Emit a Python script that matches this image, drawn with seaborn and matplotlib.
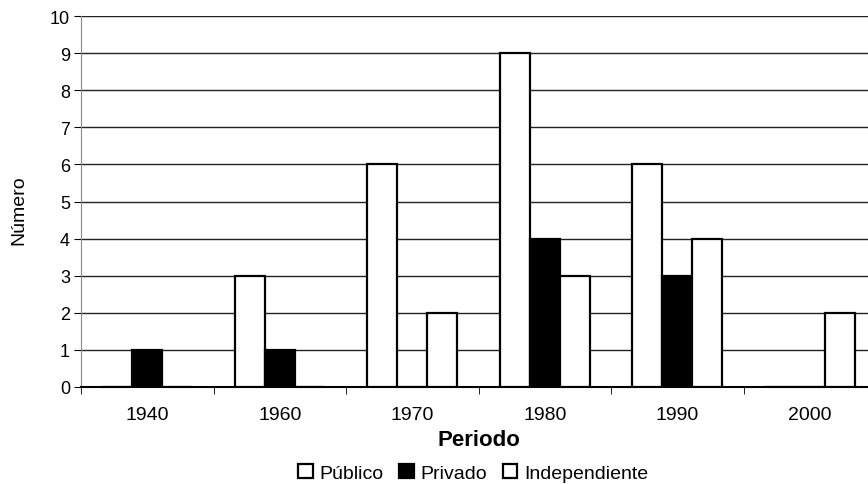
import numpy as np
import pandas as pd
import seaborn as sns
import matplotlib.pyplot as plt
from matplotlib.ticker import FixedLocator

periodos = ["1940", "1960", "1970", "1980", "1990", "2000"]
publico = [0, 3, 6, 9, 6, 0]
privado = [1, 1, 0, 4, 3, 0]
independiente = [0, 0, 2, 3, 4, 2]
series = ["Público", "Privado", "Independiente"]

df = pd.DataFrame({
    "Periodo": periodos * 3,
    "Número": publico + privado + independiente,
    "Tipo": [s for s in series for _ in periodos],
})

sns.set_style("white")
plt.rcParams['font.family'] = ['Liberation Sans', 'DejaVu Sans']
# scanned original has pure black text
plt.rcParams['text.color'] = 'black'
plt.rcParams['axes.labelcolor'] = 'black'
plt.rcParams['xtick.color'] = 'black'
plt.rcParams['ytick.color'] = 'black'

fig = plt.figure(figsize=(8.68, 4.85), dpi=100)
# axes runs past the right edge like the scanned original
ax = fig.add_axes([81/868, 1 - 388/485, 795/868, 371/485])

sns.barplot(data=df, x="Periodo", y="Número", hue="Tipo", order=periodos,
            hue_order=series, palette=["white", "black", "white"],
            edgecolor="black", linewidth=1.6, width=0.68, ax=ax,
            zorder=3)

ax.set_ylim(0, 10)
ax.set_xlim(-0.5, 5.5)
ax.set_yticks(range(0, 11))
ax.yaxis.grid(True, color="#222222", linewidth=1.0, zorder=0)
ax.set_axisbelow(True)

for s in ["top", "right"]:
    ax.spines[s].set_visible(False)
ax.spines["left"].set_color("#888888")
ax.spines["bottom"].set_color("black")
ax.spines["bottom"].set_linewidth(1.5)

ax.tick_params(axis="y", which="major", length=5, direction="out",
               left=True, labelsize=13, pad=3)
ax.tick_params(axis="x", which="major", length=0, labelsize=14, pad=14)
ax.xaxis.set_minor_locator(FixedLocator(np.arange(-0.5, 6, 1)))
ax.tick_params(axis="x", which="minor", length=5, direction="out", bottom=True)

ax.set_xlabel("Periodo", fontsize=16, fontweight="bold")
ax.xaxis.set_label_coords(0.5, -0.112)
ax.set_ylabel("Número", fontsize=14)
ax.yaxis.set_label_coords(-0.068, 0.48)

handles, labels = ax.get_legend_handles_labels()
ax.legend(handles, labels, loc="center", bbox_to_anchor=(473/868, 1 - 474/485),
          bbox_transform=fig.transFigure, ncol=3, frameon=False, fontsize=14,
          handlelength=0.75, handleheight=0.75, handletextpad=0.35,
          columnspacing=0.8, borderpad=0)

fig.savefig("out.png", dpi=100)
